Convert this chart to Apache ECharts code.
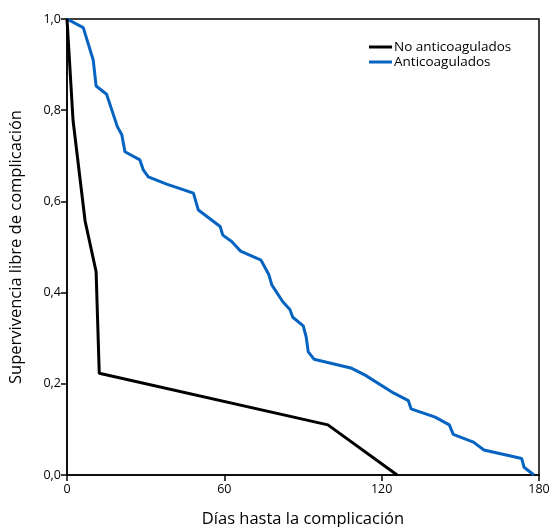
<!DOCTYPE html>
<html>
<head>
<meta charset="utf-8">
<script src="https://cdn.jsdelivr.net/npm/echarts@6/dist/echarts.min.js"></script>
<style>
html,body{margin:0;padding:0;background:#fff;}
#chart{width:552px;height:527px;}
</style>
</head>
<body>
<div id="chart"></div>
<script>
var noAntiDays = [0, 2.3, 6.9, 11.1, 12.3, 99.5, 125.9];
var noAntiSurv = [1.0, 0.778, 0.557, 0.446, 0.223, 0.110, 0.0];

var antiDays = [0, 6.2, 10.0, 11.1, 15.1, 19.2, 20.9, 22.1, 27.8, 29.1, 31.0, 38.0, 48.2, 50.1, 58.4, 59.4, 62.8, 66.2, 74.0, 77.0, 78.1, 82.3, 85.0, 86.1, 90.1, 91.2, 92.0, 94.2, 108.6, 113.7, 124.5, 130.2, 131.2, 140.4, 145.8, 147.3, 155.0, 159.0, 173.4, 174.3, 178.1];
var antiSurv = [1.0, 0.981, 0.910, 0.853, 0.835, 0.764, 0.746, 0.709, 0.691, 0.669, 0.654, 0.638, 0.618, 0.581, 0.545, 0.526, 0.512, 0.491, 0.471, 0.439, 0.417, 0.380, 0.363, 0.346, 0.327, 0.303, 0.270, 0.254, 0.234, 0.219, 0.180, 0.163, 0.145, 0.127, 0.110, 0.089, 0.072, 0.055, 0.036, 0.017, 0.0];

var seriesNames = ['No anticoagulados', 'Anticoagulados'];
var xTicks = [0, 60, 120, 180];

function zip(a, b) { return a.map(function (v, i) { return [v, b[i]]; }); }

var chart = echarts.init(document.getElementById('chart'), null, {renderer: 'canvas'});
var font = 'Open Sans';
chart.setOption({
  animation: false,
  backgroundColor: '#fff',
  textStyle: {fontFamily: font},
  grid: {left: 67, right: 13, top: 19, bottom: 52, outerBoundsMode: 'none', containLabel: false,
         show: true, borderColor: '#000', borderWidth: 1.5, backgroundColor: 'transparent'},
  legend: {
    orient: 'vertical', left: 364, top: 35, itemGap: 1,
    itemWidth: 23, itemHeight: 3, icon: 'rect',
    textStyle: {fontSize: 13.5, color: '#000', fontFamily: font, padding: [0, 0, 0, -3]},
    data: seriesNames
  },
  xAxis: {
    type: 'value', min: 0, max: 180, interval: 60,
    name: 'Días hasta la complicación', nameLocation: 'middle', nameGap: 36,
    nameTextStyle: {fontSize: 16.5, color: '#000', fontFamily: font},
    axisLine: {show: true, onZero: false, lineStyle: {color: '#000', width: 1.5}},
    axisTick: {show: true, length: 6, lineStyle: {color: '#000', width: 1.5}},
    axisLabel: {fontSize: 12.5, color: '#000', margin: 8, formatter: function (v) { return xTicks.indexOf(v) >= 0 ? String(v) : ''; }},
    splitLine: {show: false}
  },
  yAxis: {
    type: 'value', min: 0, max: 1, interval: 0.2,
    name: 'Supervivencia libre de complicación', nameLocation: 'middle', nameGap: 42,
    nameTextStyle: {fontSize: 16.5, color: '#000', fontFamily: font},
    axisLine: {show: true, onZero: false, lineStyle: {color: '#000', width: 1.5}},
    axisTick: {show: true, length: 6, lineStyle: {color: '#000', width: 1.5}},
    axisLabel: {fontSize: 12.5, color: '#000', margin: 6, formatter: function (v) { return v.toFixed(1).replace('.', ','); }},
    splitLine: {show: false}
  },
  series: [
    {name: seriesNames[0], type: 'line', data: zip(noAntiDays, noAntiSurv), showSymbol: false, symbol: 'none',
     itemStyle: {color: '#000'}, lineStyle: {color: '#000', width: 3}, z: 3},
    {name: seriesNames[1], type: 'line', data: zip(antiDays, antiSurv), showSymbol: false, symbol: 'none',
     itemStyle: {color: '#0563c1'}, lineStyle: {color: '#0563c1', width: 3}, z: 2}
  ]
});
</script>
</body>
</html>
